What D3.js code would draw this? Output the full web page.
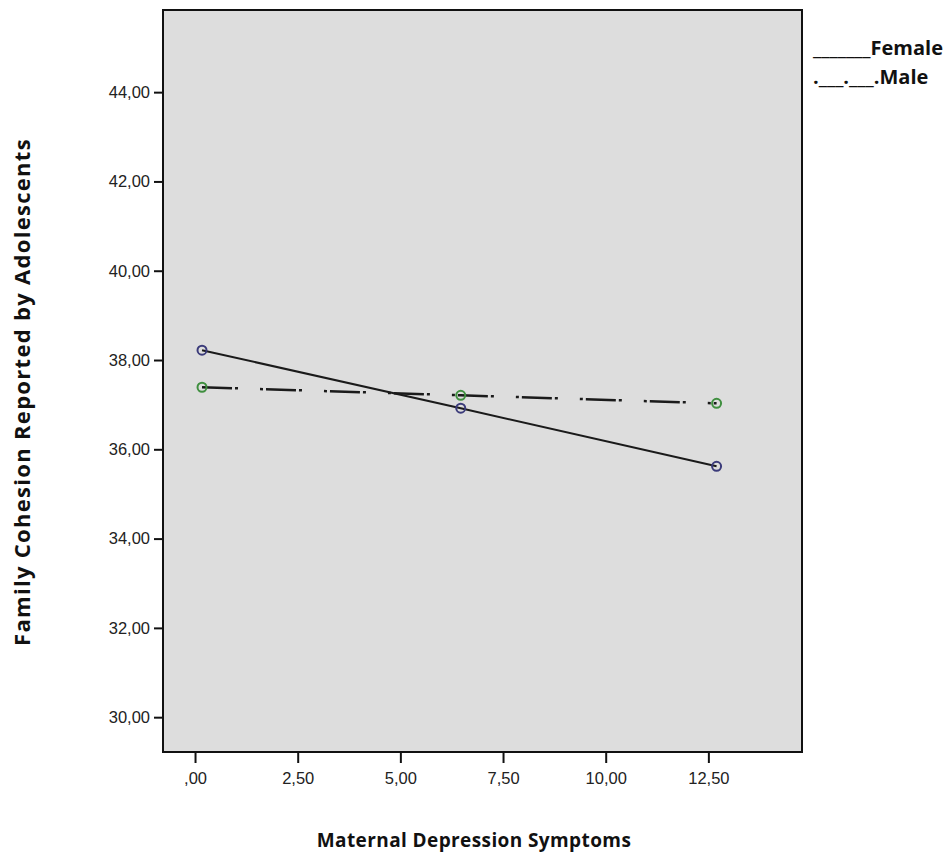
<!DOCTYPE html>
<html>
<head>
<meta charset="utf-8">
<script src="https://cdn.jsdelivr.net/npm/d3@7"></script>
<style>
  body { margin: 0; background: #fff; }
  .tick text { font-family: "Liberation Sans", Arial, sans-serif; font-size: 16.5px; fill: #222; }
  .title { font-family: "Open Sans", sans-serif; font-weight: bold; fill: #111; }
</style>
</head>
<body>
<div id="chart"></div>
<script>
// data
var xValues = [0.17, 6.47, 12.7];
var female = [38.22, 36.92, 35.62];
var male = [37.39, 37.21, 37.03];
var xTicks = [0, 2.5, 5, 7.5, 10, 12.5];
var yTicks = [30, 32, 34, 36, 38, 40, 42, 44];

var svgWidth = 951, svgHeight = 860;
var margin = { top: 10, right: 149, bottom: 108, left: 163 };
var chartWidth = svgWidth - margin.left - margin.right;
var chartHeight = svgHeight - margin.top - margin.bottom;

var svg = d3.select("#chart").append("svg")
    .attr("width", svgWidth)
    .attr("height", svgHeight);

var chartGroup = svg.append("g")
    .attr("transform", `translate(${margin.left}, ${margin.top})`);

var xScale = d3.scaleLinear().domain([-0.78, 14.78]).range([0, chartWidth]);
var yScale = d3.scaleLinear().domain([29.22, 45.84]).range([chartHeight, 0]);

// spss style numbers: comma decimals, no leading zero for 0
var fmt = function(v) {
    var s = d3.format(".2f")(v).replace(".", ",");
    return s === "0,00" ? ",00" : s;
};

// plot background
chartGroup.append("rect")
    .attr("width", chartWidth)
    .attr("height", chartHeight)
    .attr("fill", "#dddddd");

var xAxis = d3.axisBottom(xScale).tickValues(xTicks).tickFormat(fmt).tickSize(11).tickPadding(9);
var yAxis = d3.axisLeft(yScale).tickValues(yTicks).tickFormat(fmt).tickSize(9).tickPadding(4);

var gx = chartGroup.append("g")
    .attr("transform", `translate(0, ${chartHeight})`)
    .call(xAxis);
var gy = chartGroup.append("g").call(yAxis);
[gx, gy].forEach(g => {
    g.select(".domain").remove();
    g.selectAll(".tick line").attr("stroke", "#111").attr("stroke-width", 2);
});

// frame
chartGroup.append("rect")
    .attr("width", chartWidth)
    .attr("height", chartHeight)
    .attr("fill", "none")
    .attr("stroke", "#111")
    .attr("stroke-width", 2);

var line = d3.line().x((d, i) => xScale(xValues[i])).y(d => yScale(d));

chartGroup.append("path")
    .datum(female)
    .attr("d", line)
    .attr("fill", "none")
    .attr("stroke", "#1a1a1a")
    .attr("stroke-width", 2);

chartGroup.append("path")
    .datum(male)
    .attr("d", line)
    .attr("fill", "none")
    .attr("stroke", "#1a1a1a")
    .attr("stroke-width", 2.5)
    .attr("stroke-dasharray", "30,3,3,22,3,3");

chartGroup.append("g").selectAll("circle")
    .data(female)
    .enter().append("circle")
    .attr("cx", (d, i) => xScale(xValues[i]))
    .attr("cy", d => yScale(d))
    .attr("r", 4.5)
    .attr("fill", "none")
    .attr("stroke", "#3b3b7a")
    .attr("stroke-width", 2);

chartGroup.append("g").selectAll("circle")
    .data(male)
    .enter().append("circle")
    .attr("cx", (d, i) => xScale(xValues[i]))
    .attr("cy", d => yScale(d))
    .attr("r", 4.5)
    .attr("fill", "none")
    .attr("stroke", "#3f8f3f")
    .attr("stroke-width", 2);

// axis titles
svg.append("text")
    .attr("class", "title")
    .attr("font-size", 19)
    .attr("letter-spacing", 0.4)
    .attr("text-anchor", "middle")
    .attr("x", 474)
    .attr("y", 847)
    .text("Maternal Depression Symptoms");

svg.append("text")
    .attr("class", "title")
    .attr("font-size", 22)
    .attr("letter-spacing", 1.3)
    .attr("text-anchor", "middle")
    .attr("transform", "translate(30, 392) rotate(-90)")
    .text("Family Cohesion Reported by Adolescents");

// legend
var legend = svg.append("g").attr("class", "title").attr("font-size", 20);
legend.append("text").attr("x", 813).attr("y", 55).text("_______Female");
legend.append("text").attr("x", 813).attr("y", 84).text(".___.___.Male");
</script>
</body>
</html>
